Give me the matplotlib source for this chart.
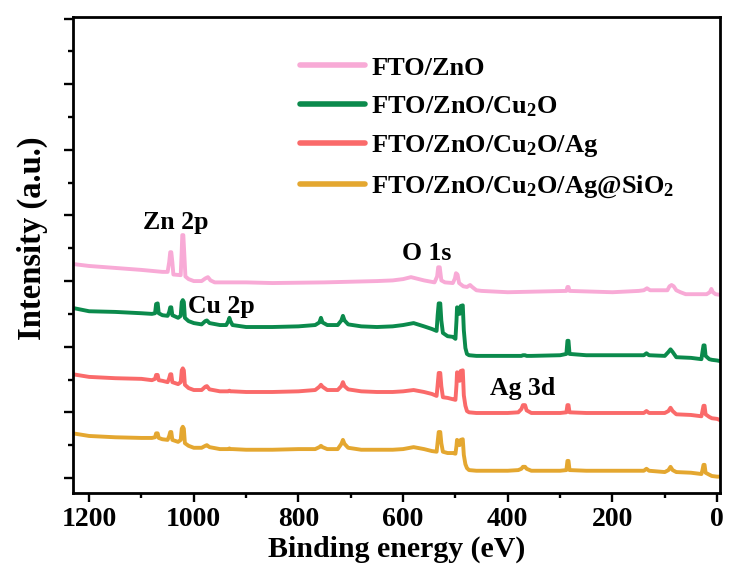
import numpy as np
import matplotlib
matplotlib.use("Agg")
import matplotlib.pyplot as plt
from matplotlib.ticker import MultipleLocator, NullFormatter

plt.rcParams['font.family'] = ['Liberation Serif', 'DejaVu Serif']
plt.rcParams['font.weight'] = 'bold'
plt.rcParams['mathtext.fontset'] = 'custom'
plt.rcParams['mathtext.rm'] = 'Liberation Serif:bold'
plt.rcParams['mathtext.it'] = 'Liberation Serif:bold'
plt.rcParams['mathtext.bf'] = 'Liberation Serif:bold'

# XPS survey spectra, offset-stacked (a.u.)
labels = ['FTO/ZnO', 'FTO/ZnO/Cu$_2$O', 'FTO/ZnO/Cu$_2$O/Ag', 'FTO/ZnO/Cu$_2$O/Ag@SiO$_2$']
colors = ['#F8AAD6', '#0B8A4C', '#FA6A6A', '#E4A730']

be_zno = [1231, 1200, 1150, 1100, 1060, 1050, 1047, 1045, 1043, 1041,
          1039, 1025, 1023, 1022, 1020, 1018, 1016, 1010, 1000, 985,
          978, 973, 968, 960, 900, 850, 750, 650, 620, 600,
          585, 575, 560, 540, 535, 533, 530, 527, 520, 505,
          501, 499, 496, 493, 485, 478, 472, 468, 460, 450,
          400, 288, 286, 284, 282, 200, 150, 140, 134, 128,
          95, 91, 87, 83, 78, 70, 60, 20, 14, 11,
          8, 3, -6]
int_zno = [3.26, 3.23, 3.20, 3.17, 3.14, 3.14, 3.29, 3.44, 3.44, 3.29,
           3.10, 3.09, 3.47, 3.70, 3.70, 3.39, 3.07, 3.03, 3.00, 3.00,
           3.04, 3.06, 3.01, 2.98, 2.98, 2.97, 2.98, 3.00, 3.01, 3.03,
           3.06, 3.04, 3.01, 2.98, 3.07, 3.21, 3.21, 3.01, 2.98, 2.97,
           3.04, 3.12, 3.10, 2.97, 2.92, 2.91, 2.94, 2.91, 2.86, 2.85,
           2.83, 2.85, 2.91, 2.91, 2.85, 2.83, 2.85, 2.86, 2.89, 2.86,
           2.86, 2.92, 2.94, 2.92, 2.86, 2.83, 2.80, 2.80, 2.83, 2.88,
           2.83, 2.80, 2.79]

# common energy grid for the three Cu2O samples
be_cu = [1231, 1200, 1150, 1100, 1080, 1074, 1072, 1069, 1067, 1060,
         1050, 1047, 1045, 1043, 1041, 1030, 1025, 1023, 1021, 1019,
         1017, 1010, 1000, 985, 978, 975, 970, 950, 938, 934,
         932, 930, 926, 900, 850, 800, 768, 760, 757, 754,
         745, 725, 718, 715, 712, 705, 680, 650, 620, 600,
         580, 560, 545, 536, 534, 532, 529, 527, 524, 515,
         505, 500, 498, 497, 494, 492, 490, 486, 484, 481,
         478, 474, 460, 400, 380, 374, 371, 367, 364, 355,
         300, 288, 286, 284, 282, 250, 140, 135, 130, 100,
         93, 89, 85, 78, 50, 30, 28, 26, 24, 22,
         15, 10, 0, -6]
int_cu2o = [2.59, 2.54, 2.53, 2.51, 2.50, 2.51, 2.65, 2.66, 2.51, 2.48,
            2.47, 2.53, 2.60, 2.60, 2.48, 2.44, 2.47, 2.68, 2.71, 2.68,
            2.44, 2.39, 2.36, 2.34, 2.39, 2.40, 2.36, 2.33, 2.33, 2.39,
            2.44, 2.39, 2.33, 2.30, 2.30, 2.31, 2.33, 2.37, 2.44, 2.37,
            2.33, 2.33, 2.40, 2.47, 2.40, 2.34, 2.31, 2.30, 2.31, 2.33,
            2.36, 2.31, 2.27, 2.24, 2.48, 2.66, 2.66, 2.40, 2.21, 2.16,
            2.15, 2.12, 2.40, 2.60, 2.59, 2.50, 2.62, 2.63, 2.25, 1.98,
            1.89, 1.87, 1.86, 1.86, 1.86, 1.86, 1.87, 1.87, 1.86, 1.86,
            1.87, 1.89, 2.09, 2.09, 1.89, 1.87, 1.87, 1.90, 1.87, 1.86,
            1.92, 1.96, 1.92, 1.84, 1.83, 1.81, 1.92, 2.02, 2.02, 1.86,
            1.81, 1.80, 1.79, 1.78]
int_ag = [1.58, 1.54, 1.52, 1.51, 1.49, 1.51, 1.57, 1.57, 1.49, 1.48,
          1.46, 1.52, 1.58, 1.58, 1.46, 1.43, 1.46, 1.64, 1.67, 1.64,
          1.42, 1.37, 1.34, 1.34, 1.39, 1.40, 1.35, 1.32, 1.32, 1.32,
          1.33, 1.32, 1.32, 1.31, 1.31, 1.32, 1.34, 1.39, 1.42, 1.39,
          1.34, 1.34, 1.40, 1.46, 1.40, 1.35, 1.32, 1.31, 1.31, 1.32,
          1.34, 1.31, 1.28, 1.25, 1.42, 1.60, 1.60, 1.40, 1.23, 1.22,
          1.20, 1.19, 1.42, 1.61, 1.60, 1.48, 1.63, 1.64, 1.26, 1.10,
          1.02, 1.00, 0.99, 0.99, 1.00, 1.05, 1.11, 1.11, 1.03, 0.99,
          0.99, 1.00, 1.11, 1.11, 1.00, 0.99, 0.99, 1.02, 0.99, 0.99,
          1.02, 1.07, 1.02, 0.97, 0.96, 0.94, 1.02, 1.10, 1.10, 0.97,
          0.93, 0.91, 0.90, 0.88]
int_agsio2 = [0.68, 0.64, 0.62, 0.61, 0.61, 0.62, 0.68, 0.68, 0.61, 0.59,
              0.58, 0.64, 0.70, 0.70, 0.58, 0.55, 0.58, 0.75, 0.78, 0.75,
              0.53, 0.49, 0.46, 0.46, 0.49, 0.50, 0.47, 0.44, 0.44, 0.44,
              0.45, 0.44, 0.44, 0.43, 0.43, 0.44, 0.44, 0.47, 0.49, 0.47,
              0.44, 0.44, 0.52, 0.58, 0.52, 0.46, 0.43, 0.43, 0.43, 0.44,
              0.47, 0.44, 0.41, 0.40, 0.55, 0.70, 0.70, 0.53, 0.40, 0.38,
              0.38, 0.37, 0.49, 0.58, 0.56, 0.50, 0.58, 0.59, 0.35, 0.21,
              0.15, 0.12, 0.11, 0.11, 0.12, 0.14, 0.17, 0.17, 0.14, 0.11,
              0.11, 0.12, 0.26, 0.26, 0.12, 0.11, 0.11, 0.14, 0.11, 0.09,
              0.12, 0.17, 0.12, 0.09, 0.08, 0.06, 0.12, 0.20, 0.20, 0.08,
              0.05, 0.03, 0.02, 0.02]

peak_names = ['Zn 2p', 'Cu 2p', 'O 1s', 'Ag 3d']
peak_x = [1097, 1011, 602, 434]
peak_y = [3.79, 2.51, 3.32, 1.26]

fig = plt.figure(figsize=(7.29, 5.74), dpi=100)
ax = fig.add_axes([0.100, 0.141, 0.888, 0.829])

series = [(be_zno, int_zno), (be_cu, int_cu2o), (be_cu, int_ag), (be_cu, int_agsio2)]
for (x, y), lab, c in zip(series, labels, colors):
    ax.plot(x, y, color=c, lw=2.8, label=lab, solid_joinstyle='round')

for name, x, y in zip(peak_names, peak_x, peak_y):
    ax.text(x, y, name, fontsize=18.5, fontweight='bold', ha='left', va='baseline')

ax.set_xlim(1231, -6)
ax.set_ylim(-0.23, 7.02)
ax.xaxis.set_major_locator(MultipleLocator(200))
ax.xaxis.set_minor_locator(MultipleLocator(100))
ax.yaxis.set_major_locator(MultipleLocator(1))
ax.yaxis.set_minor_locator(MultipleLocator(0.5))
ax.yaxis.set_major_formatter(NullFormatter())
ax.tick_params(which='major', direction='out', length=6.5, width=1.7, labelsize=20)
ax.tick_params(which='minor', direction='out', length=3.5, width=1.7)
for s in ax.spines.values():
    s.set_linewidth(2)

ax.set_xlabel('Binding energy (eV)', fontsize=21.5, fontweight='bold', labelpad=3)
ax.set_ylabel('Intensity (a.u.)', fontsize=23.5, fontweight='bold')
ax.yaxis.set_label_coords(-0.038, 0.536)

leg = ax.legend(loc='upper left', bbox_to_anchor=(0.351, 0.918), frameon=False,
                fontsize=19, handlelength=2.45, handletextpad=0.25, labelspacing=0.55,
                borderpad=0, borderaxespad=0)
for ln in leg.get_lines():
    ln.set_linewidth(4)
    ln.set_solid_capstyle('round')

fig.savefig('out.png', dpi=100)
